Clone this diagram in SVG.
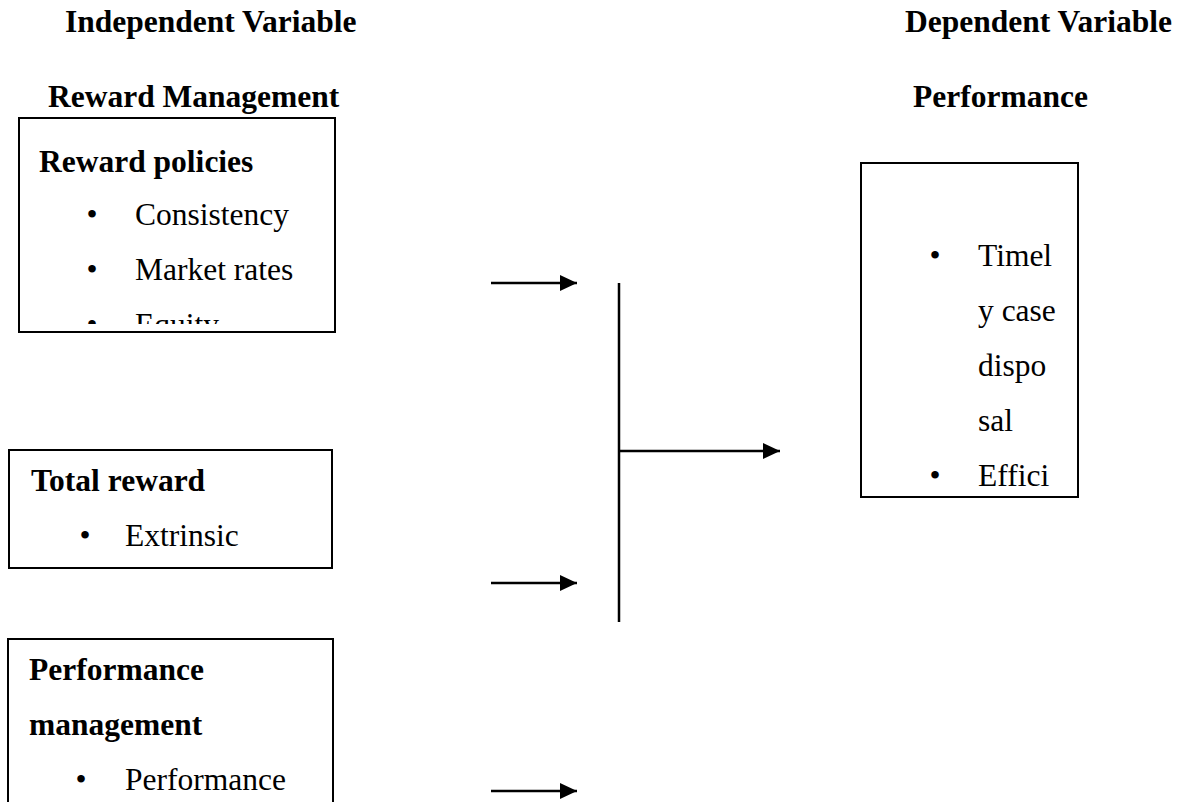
<svg xmlns="http://www.w3.org/2000/svg" width="1186" height="802" viewBox="0 0 1186 802">
  <style>
    text { font-family: "Liberation Serif", "Times New Roman", serif; font-size: 31.5px; fill: #000; }
    .b { font-weight: bold; }
    .bul { text-anchor: middle; }
    .box { fill: #fff; stroke: #000; stroke-width: 2; }
    .conn { stroke: #000; stroke-width: 2.5; fill: none; }
  </style>
  <defs>
    <marker id="arr" markerUnits="userSpaceOnUse" markerWidth="19" markerHeight="17" refX="17" refY="8" orient="auto">
      <path d="M0,0 L17,8 L0,16 Z" fill="#000"/>
    </marker>
    <clipPath id="clip1">
      <rect x="19" y="118" width="316" height="206"/>
    </clipPath>
  </defs>
  <rect width="1186" height="802" fill="#fff"/>

  <g id="headers">
    <text class="b" x="65" y="32">Independent Variable</text>
    <text class="b" x="48" y="107">Reward Management</text>
    <text class="b" x="905" y="32">Dependent Variable</text>
    <text class="b" x="913" y="107">Performance</text>
  </g>

  <g id="node-reward-policies">
    <rect class="box" x="19" y="118" width="316" height="214"/>
    <g clip-path="url(#clip1)">
      <text class="b" x="39" y="172">Reward policies</text>
      <text class="bul" x="92" y="225">•</text>
      <text x="135" y="225">Consistency</text>
      <text class="bul" x="92" y="280">•</text>
      <text x="135" y="280">Market rates</text>
      <text class="bul" x="92" y="335">•</text>
      <text x="135" y="335">Equity</text>
    </g>
  </g>

  <g id="node-total-reward">
    <rect class="box" x="9" y="450" width="323" height="118"/>
    <text class="b" x="31" y="491">Total reward</text>
    <text class="bul" x="85" y="546">•</text>
    <text x="125" y="546">Extrinsic</text>
  </g>

  <g id="node-performance-management">
    <rect class="box" x="8" y="639" width="325" height="190"/>
    <text class="b" x="29" y="680">Performance</text>
    <text class="b" x="29" y="735">management</text>
    <text class="bul" x="81" y="790">•</text>
    <text x="125" y="790">Performance</text>
  </g>

  <g id="node-performance">
    <rect class="box" x="861" y="163" width="217" height="334"/>
    <text class="bul" x="935" y="266">•</text>
    <text x="978" y="266">Timel</text>
    <text x="978" y="321">y case</text>
    <text x="978" y="376">dispo</text>
    <text x="978" y="431">sal</text>
    <text class="bul" x="935" y="486">•</text>
    <text x="978" y="486">Effici</text>
  </g>

  <g id="connectors">
    <line class="conn" x1="491" y1="283" x2="577" y2="283" marker-end="url(#arr)"/>
    <line class="conn" x1="491" y1="583" x2="577" y2="583" marker-end="url(#arr)"/>
    <line class="conn" x1="491" y1="791" x2="577" y2="791" marker-end="url(#arr)"/>
    <line class="conn" x1="619" y1="283" x2="619" y2="622"/>
    <line class="conn" x1="619" y1="451" x2="780" y2="451" marker-end="url(#arr)"/>
  </g>
</svg>
